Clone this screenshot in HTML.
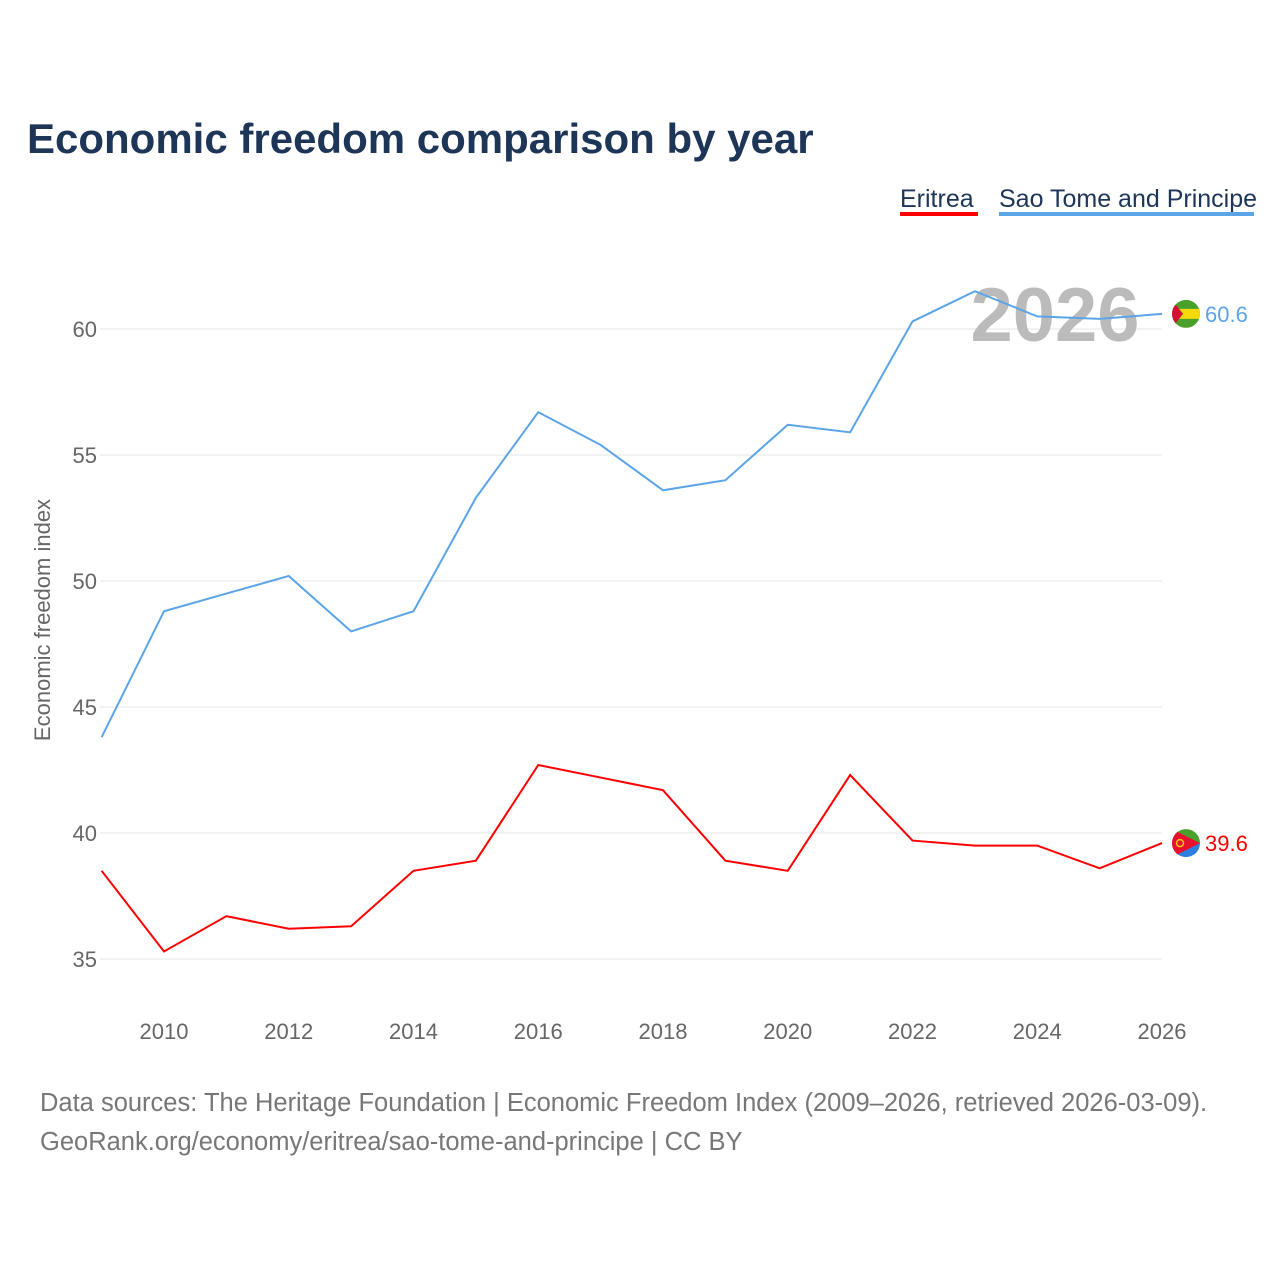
<!DOCTYPE html>
<html><head><meta charset="utf-8">
<style>
body{margin:0;background:#fff;font-family:"Liberation Sans",sans-serif;}
#wrap{position:relative;width:1280px;height:1280px;overflow:hidden;}
</style></head>
<body>
<div id="wrap">
<svg id="chart" width="1280" height="1280">
<defs>
<clipPath id="c1"><circle cx="0" cy="0" r="14"/></clipPath>
</defs>
<text x="27" y="153" font-size="42" font-weight="bold" fill="#1d3557">Economic freedom comparison by year</text>
<g>
<text x="900" y="207" font-size="25" fill="#1d3557">Eritrea</text>
<rect x="900" y="212" width="78" height="4" fill="#ff0000"/></g>
<g>
<text x="999" y="207" font-size="25" fill="#1d3557">Sao Tome and Principe</text>
<rect x="999" y="212" width="255" height="4" fill="#5ba4e8"/></g>
<g id="grid"></g>
<g id="yticks"></g>
<g id="xticks"></g>
<text x="1055" y="341" font-size="76" font-weight="bold" fill="#bbbbbb" text-anchor="middle">2026</text>
<text transform="translate(50,620) rotate(-90)" font-size="22" fill="#666" text-anchor="middle">Economic freedom index</text>
<g id="series"></g>
<text x="40" y="1111" font-size="25.5" fill="#777">Data sources: The Heritage Foundation | Economic Freedom Index (2009–2026, retrieved 2026-03-09).</text>
<text x="40" y="1150" font-size="25.5" fill="#777">GeoRank.org/economy/eritrea/sao-tome-and-principe | CC BY</text>
</svg>
</div>
<script>
const years=[2009,2010,2011,2012,2013,2014,2015,2016,2017,2018,2019,2020,2021,2022,2023,2024,2025,2026];
const eritrea=[38.5,35.3,36.7,36.2,36.3,38.5,38.9,42.7,42.2,41.7,38.9,38.5,42.3,39.7,39.5,39.5,38.6,39.6];
const saoTome=[43.8,48.8,49.5,50.2,48.0,48.8,53.3,56.7,55.4,53.6,54.0,56.2,55.9,60.3,61.5,60.5,60.4,60.6];
const yTicks=[35,40,45,50,55,60];
const xTicks=[2010,2012,2014,2016,2018,2020,2022,2024,2026];
const NS="http://www.w3.org/2000/svg";
const X=y=>164+(y-2010)*62.375;
const Y=v=>959-(v-35)*25.2;
function mk(t,a,p){const e=document.createElementNS(NS,t);for(const k in a)e.setAttribute(k,a[k]);p.appendChild(e);return e;}
const grid=document.getElementById('grid'),yt=document.getElementById('yticks'),xt=document.getElementById('xticks'),se=document.getElementById('series');
yTicks.forEach(v=>{
const l=mk('line',{x1:100,x2:1162,y1:Y(v),y2:Y(v),stroke:'#e6e6e6','stroke-width':1},grid);


const t=mk('text',{x:97,y:Y(v)+8,'font-size':22,fill:'#666','text-anchor':'end'},yt);t.textContent=v;


});
xTicks.forEach(v=>{
const t=mk('text',{x:X(v),y:1039,'font-size':22,fill:'#666','text-anchor':'middle'},xt);t.textContent=v;


});
function line(data,color,name,flag){
const p=mk('polyline',{points:data.map((v,i)=>X(years[i])+','+Y(v)).join(' '),fill:'none',stroke:color,'stroke-width':2},se);


const last=data[data.length-1],lx=X(years[years.length-1]),ly=Y(last);
const g=mk('g',{transform:'translate('+(lx+24)+','+ly+')','clip-path':'url(#c1)'},se);


if(flag==='stp'){
mk('rect',{x:-14,y:-14,width:28,height:28,fill:'#4aa02c'},g);
mk('rect',{x:-14,y:-5,width:28,height:10,fill:'#f5d90a'},g);
mk('polygon',{points:'-14,-14 -3,0 -14,14',fill:'#d21034'},g);
}else{
mk('rect',{x:-14,y:-14,width:28,height:14,fill:'#4aa02c'},g);
mk('rect',{x:-14,y:0,width:28,height:14,fill:'#2f7fe0'},g);
mk('polygon',{points:'-14,-14 14,0 -14,14',fill:'#e8112d'},g);
mk('circle',{cx:-6,cy:0,r:3.5,fill:'none',stroke:'#f5c518','stroke-width':1.5},g);
}
const t=mk('text',{x:lx+43,y:ly+8,'font-size':22,fill:color},se);t.textContent=last.toFixed(1);


}
line(saoTome,'#5ba4e8','sao-tome','stp');
line(eritrea,'#ff0000','eritrea','eri');
</script>
</body></html>
